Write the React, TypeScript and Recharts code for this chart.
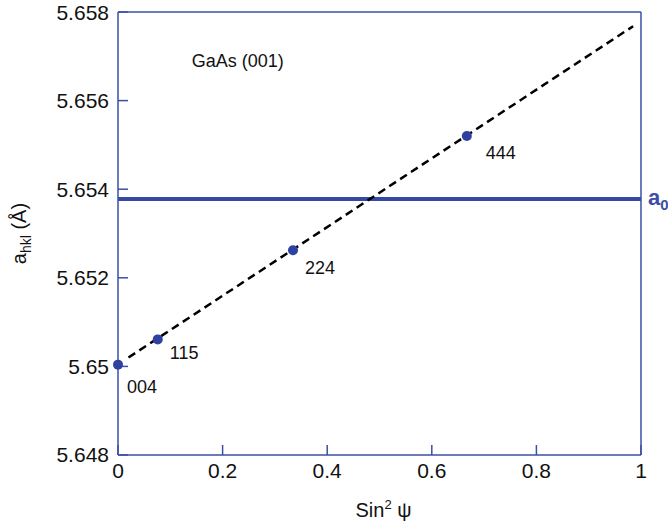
import {
  ComposedChart,
  Scatter,
  Line,
  XAxis,
  YAxis,
  ReferenceLine,
  ReferenceDot,
} from "recharts";

// measured lattice parameter per reflection
const reflections = ["004", "115", "224", "444"];
const sin2psi = [0, 0.076, 0.3346, 0.667];
const aHkl = [5.65004, 5.65061, 5.65262, 5.6552];

// linear fit (dashed)
const fitSin2psi = [0.02, 0.985];
const fitA = [5.6502, 5.65768];

// unstrained lattice parameter
const A0 = 5.65378;

const xTicks = [0, 0.2, 0.4, 0.6, 0.8, 1];
const yTicks = [5.648, 5.65, 5.652, 5.654, 5.656, 5.658];

const points = reflections.map((hkl, i) => ({ hkl, x: sin2psi[i], y: aHkl[i] }));
const fit = fitSin2psi.map((x, i) => ({ x, y: fitA[i] }));

const AXIS_BLUE = "#3b4fa8";
const DOT_BLUE = "#2e40a0";
const FONT = "'Liberation Sans', Arial, sans-serif";

// text offset from each dot (px)
const LABEL_OFFSETS: Record<string, [number, number]> = {
  "004": [9, 22],
  "115": [12, 14],
  "224": [12, 18],
  "444": [19, 17],
};

function DotWithLabel(props: any) {
  const { cx, cy, payload } = props;
  const [dx, dy] = LABEL_OFFSETS[payload.hkl] ?? [10, 15];
  return (
    <g>
      <circle cx={cx} cy={cy} r={5} fill={DOT_BLUE} />
      <text
        x={cx + dx}
        y={cy + dy}
        dominantBaseline="central"
        fontSize={18}
        fontFamily={FONT}
        fill="#111"
      >
        {payload.hkl}
      </text>
    </g>
  );
}

function XLabel(props: any) {
  const { viewBox } = props;
  const cx = viewBox.x + viewBox.width / 2 + 4;
  return (
    <text x={cx} y={517} textAnchor="middle" fontSize={20} fontFamily={FONT} fill="#111">
      Sin
      <tspan dy={-8} fontSize={13}>2</tspan>
      <tspan dy={8}> ψ</tspan>
    </text>
  );
}

function YLabel(props: any) {
  const { viewBox } = props;
  const cy = viewBox.y + viewBox.height / 2;
  return (
    <text
      x={0}
      y={0}
      transform={`translate(26, ${cy}) rotate(-90)`}
      textAnchor="middle"
      fontSize={20}
      fontFamily={FONT}
      fill="#111"
    >
      a
      <tspan dy={5} fontSize={14}>hkl</tspan>
      <tspan dy={-5}> (Å)</tspan>
    </text>
  );
}

function A0Label(props: any) {
  const { viewBox } = props;
  const y = viewBox.y;
  return (
    <text x={648} y={y + 6} fontSize={22} fontWeight="bold" fontFamily={FONT} fill={AXIS_BLUE}>
      a
      <tspan dy={5} fontSize={15}>0</tspan>
    </text>
  );
}

function NoteLabel(props: any) {
  const { viewBox } = props;
  return (
    <text x={viewBox.x} y={viewBox.y} dominantBaseline="central" fontSize={18} fontFamily={FONT} fill="#111">
      GaAs (001)
    </text>
  );
}

export default function App() {
  return (
    <div style={{ position: "fixed", left: 0, top: 0, width: 668, height: 523, background: "#fff" }}>
      <ComposedChart width={668} height={523} margin={{ top: 11, right: 26, bottom: 0, left: 0 }}>
        <XAxis
          dataKey="x"
          type="number"
          domain={[0, 1]}
          ticks={xTicks}
          height={68}
          axisLine={{ stroke: AXIS_BLUE, strokeWidth: 1.5 }}
          tickLine={{ stroke: AXIS_BLUE, strokeWidth: 1.5 }}
          tickSize={-10}
          tickMargin={18}
          tick={{ fontSize: 21, fontFamily: FONT, fill: "#111" }}
          label={<XLabel />}
        />
        <XAxis
          xAxisId="top"
          orientation="top"
          type="number"
          domain={[0, 1]}
          ticks={xTicks}
          allowDataOverflow
          height={1}
          axisLine={{ stroke: AXIS_BLUE, strokeWidth: 1.5 }}
          tickLine={{ stroke: AXIS_BLUE, strokeWidth: 1.5 }}
          tickSize={-10}
          tick={false}
        />
        <YAxis
          dataKey="y"
          type="number"
          domain={[5.648, 5.658]}
          ticks={yTicks}
          width={118}
          axisLine={{ stroke: AXIS_BLUE, strokeWidth: 1.5 }}
          tickLine={{ stroke: AXIS_BLUE, strokeWidth: 1.5 }}
          tickSize={-10}
          tickMargin={19}
          tick={{ fontSize: 21, fontFamily: FONT, fill: "#111" }}
          label={<YLabel />}
        />
        <YAxis
          yAxisId="right"
          orientation="right"
          type="number"
          domain={[5.648, 5.658]}
          ticks={yTicks}
          allowDataOverflow
          width={1}
          axisLine={{ stroke: AXIS_BLUE, strokeWidth: 1.5 }}
          tickLine={{ stroke: AXIS_BLUE, strokeWidth: 1.5 }}
          tickSize={-10}
          tick={false}
        />
        <ReferenceLine y={A0} stroke="#3548a2" strokeWidth={4} label={<A0Label />} ifOverflow="visible" />
        <Line
          data={fit}
          dataKey="y"
          stroke="#000"
          strokeWidth={2.5}
          strokeDasharray="8 5"
          dot={false}
          activeDot={false}
          isAnimationActive={false}
        />
        <Scatter data={points} dataKey="y" shape={<DotWithLabel />} isAnimationActive={false} />
        <ReferenceDot x={0.141} y={5.65689} r={0} fill="none" stroke="none" label={<NoteLabel />} />
      </ComposedChart>
    </div>
  );
}
